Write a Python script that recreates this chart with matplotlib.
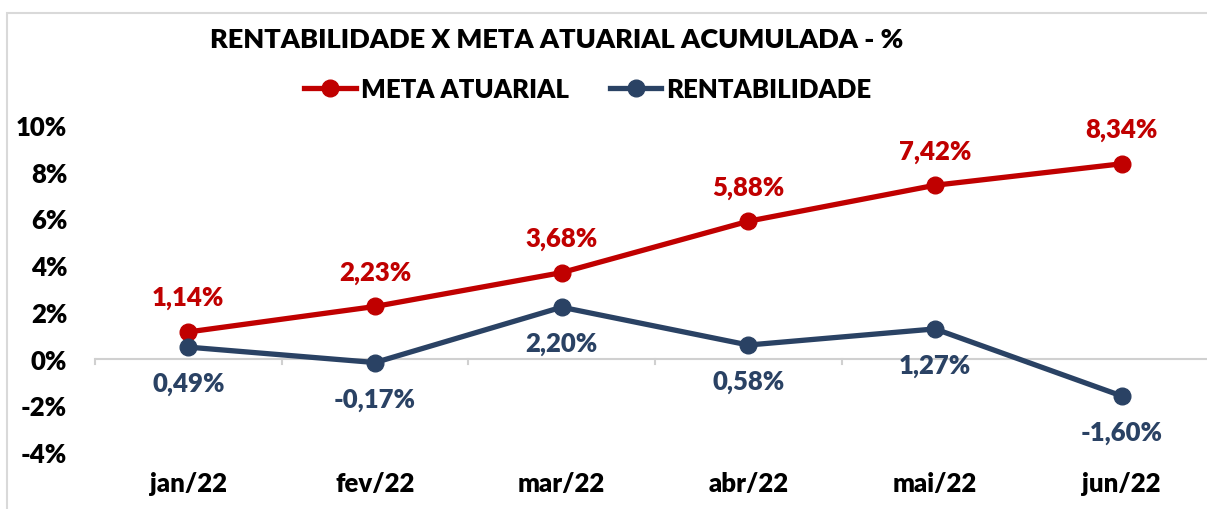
import matplotlib
matplotlib.use("Agg")
import matplotlib.pyplot as plt
from matplotlib.lines import Line2D
from matplotlib.patches import Rectangle

categories = ["jan/22", "fev/22", "mar/22", "abr/22", "mai/22", "jun/22"]
meta = [1.14, 2.23, 3.68, 5.88, 7.42, 8.34]
rent = [0.49, -0.17, 2.20, 0.58, 1.27, -1.60]
yticks = [-4, -2, 0, 2, 4, 6, 8, 10]

RED = "#C00000"
BLUE = "#2A4264"
FONT = ["Lato", "DejaVu Sans"]
plt.rcParams['font.family'] = FONT
WT = "heavy"

W, H = 1207, 510
fig = plt.figure(figsize=(W / 100, H / 100), dpi=100)
ax = fig.add_axes([95 / W, 1 - 453 / H, (1215 - 95) / W, (453 - 126) / H])

x = list(range(len(categories)))
ax.plot(x, meta, color=RED, lw=3.8, marker="o", ms=12, zorder=3, solid_capstyle="round")
ax.plot(x, rent, color=BLUE, lw=3.8, marker="o", ms=12, zorder=3, solid_capstyle="round")

fmt = lambda v: f"{v:.2f}%".replace(".", ",")
for xi, v in zip(x, meta):
    ax.annotate(fmt(v), (xi, v), xytext=(0, 25), textcoords="offset points",
                ha="center", va="center", color=RED, fontsize=18.5, fontweight=WT)
for xi, v in zip(x, rent):
    ax.annotate(fmt(v), (xi, v), xytext=(0, -26), textcoords="offset points",
                ha="center", va="center", color=BLUE, fontsize=18.5, fontweight=WT)

ax.set_xlim(-0.5, 5.5)
ax.set_ylim(-4, 10)
ax.set_yticks(yticks)
ax.set_yticklabels([f"{t}%" for t in yticks], fontsize=18.5, fontweight=WT)
ax.set_xticks(x)
ax.set_xticklabels(categories, fontsize=18.5, fontweight=WT)
ax.tick_params(axis="y", length=0, pad=20)
ax.tick_params(axis="x", length=0, pad=14)
for s in ax.spines.values():
    s.set_visible(False)
ax.axhline(0, color="#D0D0D0", lw=1.5, zorder=1)
for b in [i - 0.5 for i in range(len(categories) + 1)]:
    ax.plot([b, b], [0, -0.25], color="#D0D0D0", lw=1.5, zorder=1, clip_on=False)
ax.patch.set_alpha(0)

# border
fig.patches.append(Rectangle((7 / W, -0.1), 1.2, 1 - 14 / H + 0.1, transform=fig.transFigure,
                             fill=False, edgecolor="#D9D9D9", lw=1.5))

fig.text(557 / W, 1 - 40 / H, "RENTABILIDADE X META ATUARIAL ACUMULADA - %",
         ha="center", va="center", fontsize=19.5, fontweight=WT, color="black")

handles = [Line2D([], [], color=RED, lw=3.8, marker="o", ms=12),
           Line2D([], [], color=BLUE, lw=3.8, marker="o", ms=12)]
fig.legend(handles, ["META ATUARIAL", "RENTABILIDADE"], loc="center",
           bbox_to_anchor=(588 / W, 1 - 90 / H), ncol=2, frameon=False,
           prop={"size": 18.5, "weight": WT}, handlelength=2.0, columnspacing=1.6,
           handletextpad=0.2)

fig.savefig("out.png", dpi=100)
